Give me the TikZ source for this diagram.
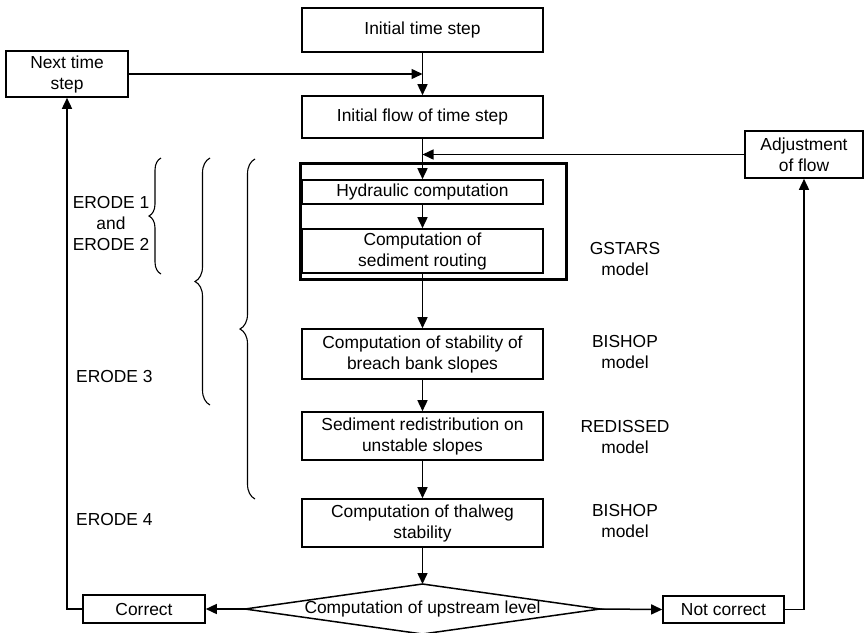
\documentclass[tikz,border=0pt]{standalone}
\usepackage{fontspec}
\setmainfont{Liberation Sans}
\usetikzlibrary{arrows.meta,decorations.pathreplacing,calc}
\begin{document}
\begin{tikzpicture}[x=1pt,y=-1pt,
  every node/.style={font=\fontsize{17.4}{21}\selectfont, align=center, inner sep=0pt},
  box/.style={draw, line width=1.6pt, minimum width=#1, fill=white},
  box/.default=241,
  arr/.style={line width=1.5pt, -{Triangle[length=11pt,width=10pt]}},
  ln/.style={line width=1.5pt},
  br/.style={line width=1.1pt, decorate, decoration={brace, amplitude=#1}}]
\useasboundingbox (0,0) rectangle (864,632);

% GSTARS thick frame
\node[draw, line width=3.5pt, minimum width=266, minimum height=116] (gbox) at (433.5,221.5) {};

% boxes
\node[box, minimum height=44] (init) at (422.5,30) {Initial time step};
\node[box=122, minimum height=46] (next) at (67,74) {Next time\\step};
\node[box, minimum height=42] (flow) at (422.5,117) {Initial flow of time step};
\node[box=118, minimum height=47] (adj) at (804,154.5) {Adjustment\\of flow};
\node[box, minimum height=24] (hyd) at (422.5,192) {Hydraulic computation};
\node[box, minimum height=44] (sed) at (422.5,251) {Computation of\\sediment routing};
\node[box, minimum height=50] (stab) at (422.5,354) {Computation of stability of\\breach bank slopes};
\node[box, minimum height=48] (redis) at (422.5,436) {Sediment redistribution on\\unstable slopes};
\node[box, minimum height=48] (thal) at (422.5,523) {Computation of thalweg\\stability};
\node[box=122, minimum height=28] (corr) at (144,609) {Correct};
\node[box=121, minimum height=27] (notc) at (723.5,609.5) {Not correct};

% decision diamond
\coordinate (dt) at (422.5,584);
\coordinate (db) at (422.5,634);
\coordinate (dl) at (245,609);
\coordinate (dr) at (600,609);
\draw[ln] (dt) -- (dr) -- (db) -- (dl) -- cycle;
\node (dec) at (422.5,609) {Computation of upstream level};

% model labels
\node (m1) at (625,259) {GSTARS\\model};
\node (m2) at (625,352) {BISHOP\\model};
\node (m3) at (625,437) {REDISSED\\model};
\node (m4) at (625,521) {BISHOP\\model};

% ERODE labels
\node (e12) at (111,224) {ERODE 1\\and\\ERODE 2};
\node[anchor=west] (e3) at (76,377) {ERODE 3};
\node[anchor=west] (e4) at (76,520) {ERODE 4};

% braces
\draw[br=12pt] (161,274) -- (161,158);
\draw[br=15pt] (210,405) -- (210,158);
\draw[br=15pt] (255,499) -- (255,159);

% connectors
\draw[arr] (init.south) -- (flow.north);
\draw[arr] (next.east) -- (next.east -| init.south);
\draw[arr] (flow.south) -- (hyd.north);
\draw[arr] (adj.west) -- (adj.west -| flow.south);
\draw[arr] (hyd.south) -- (sed.north);
\draw[arr] (sed.south) -- (stab.north);
\draw[arr] (stab.south) -- (redis.north);
\draw[arr] (redis.south) -- (thal.north);
\draw[arr] (thal.south) -- (dt);
\draw[arr] (dl) -- (corr.east);
\draw[arr] (corr.west) -| (next.south);
\draw[arr] (dr) -- (notc.west);
\draw[arr] (notc.east) -| (adj.south);
\end{tikzpicture}
\end{document}
